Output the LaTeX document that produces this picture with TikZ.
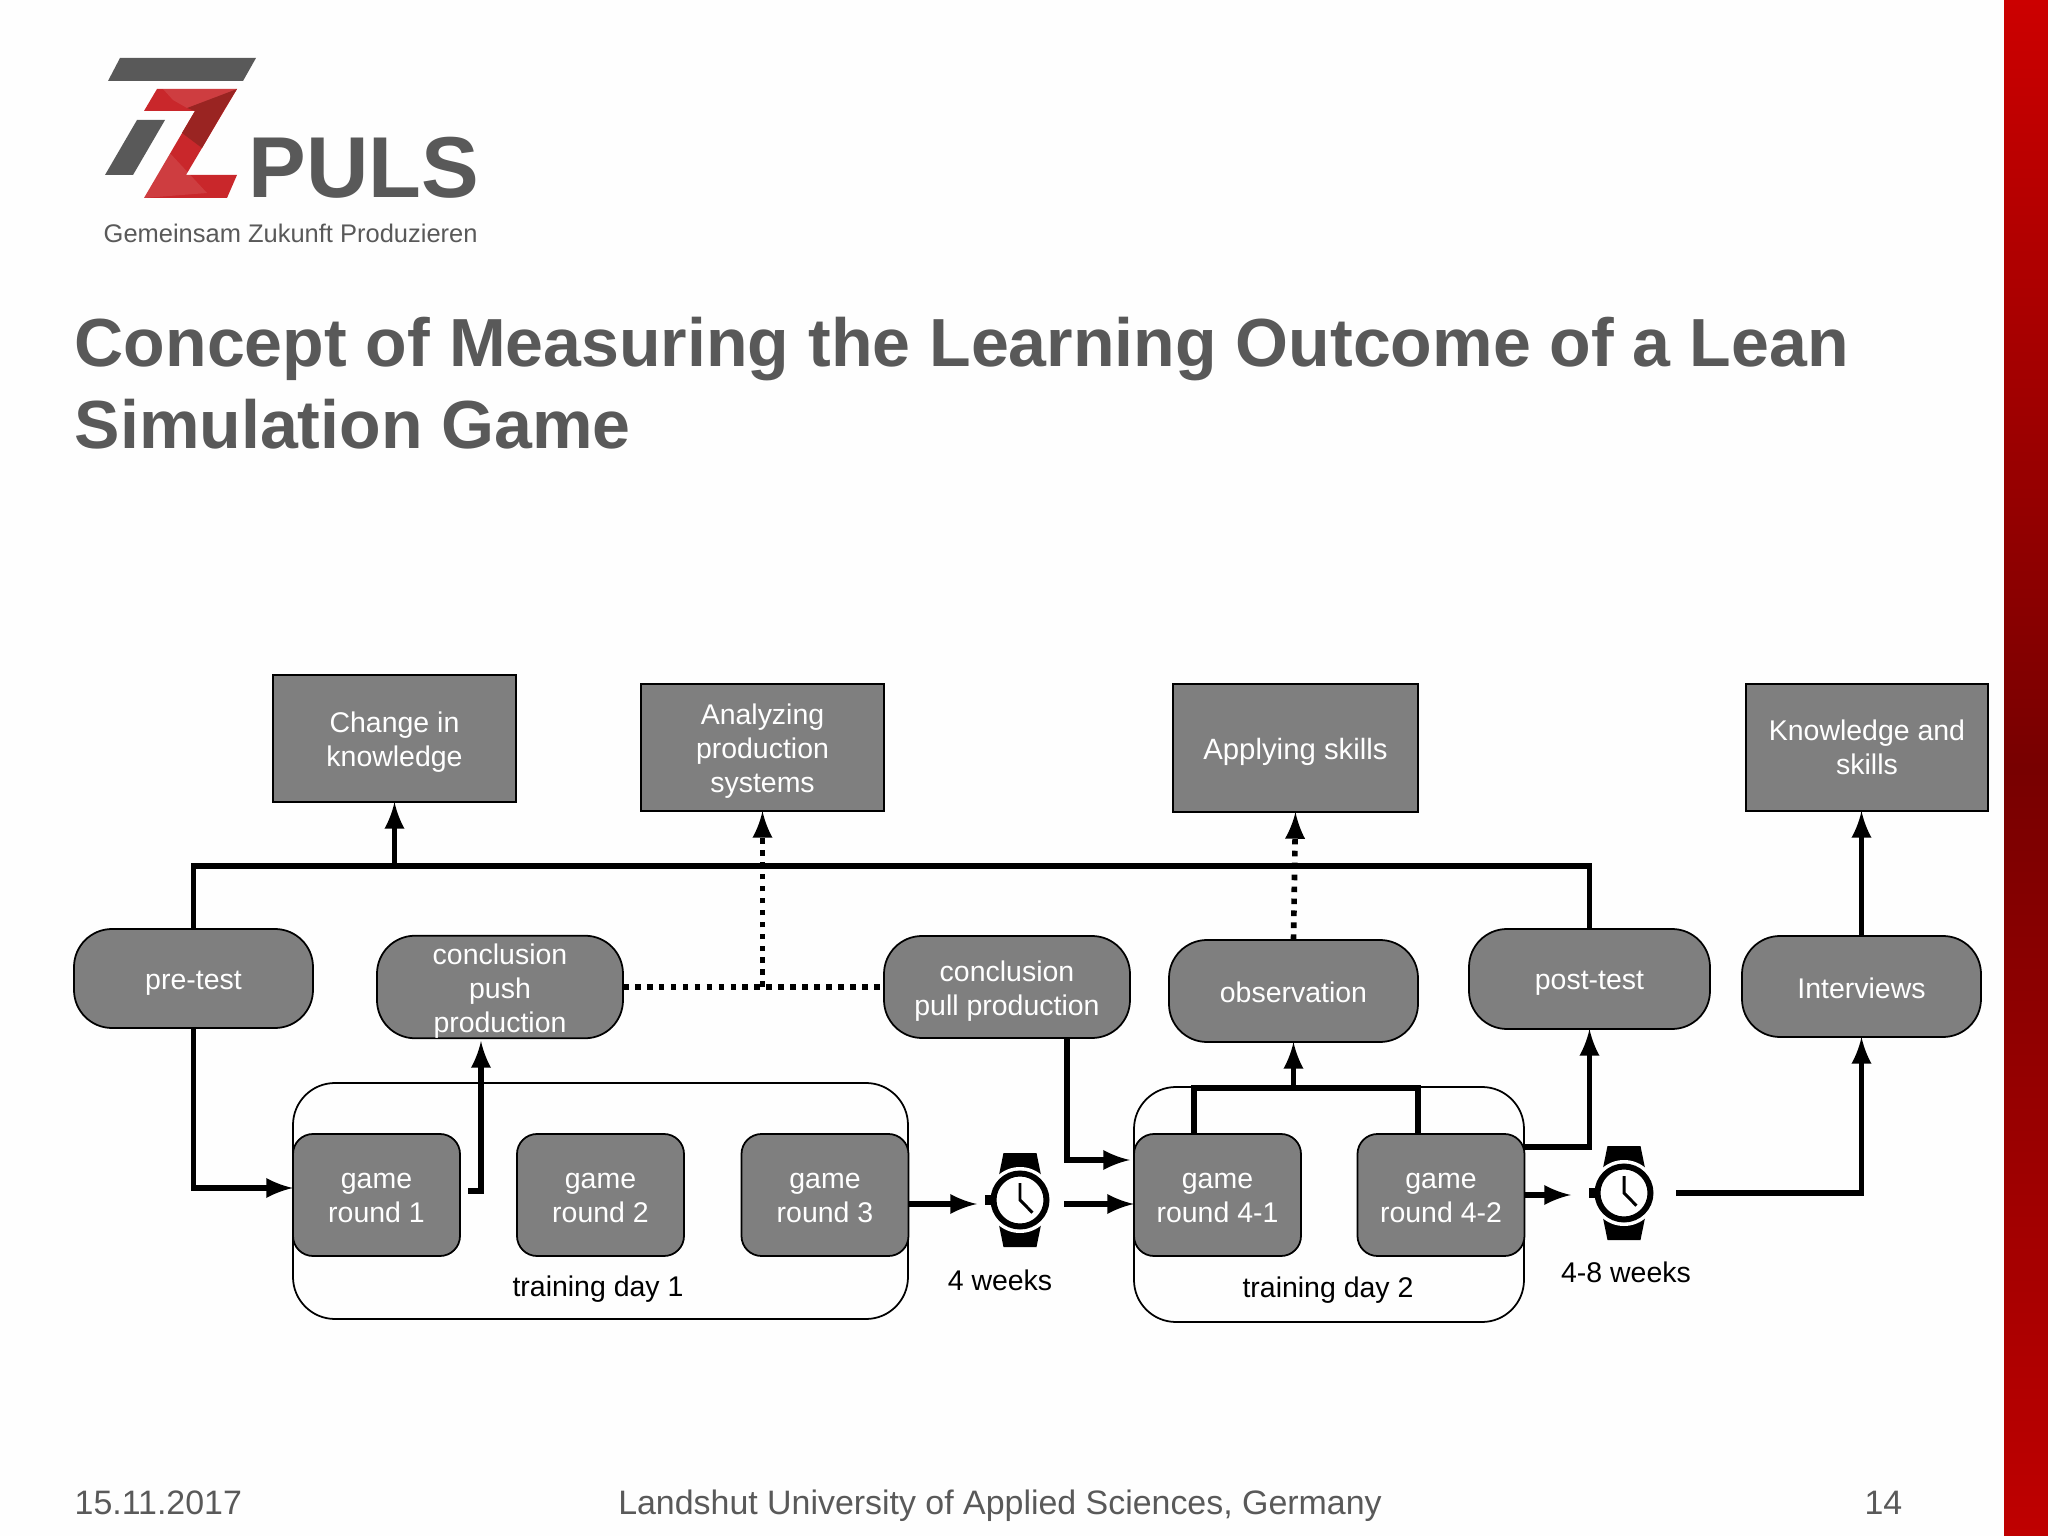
\documentclass[tikz,border=0pt]{standalone}
\usepackage{fontspec}
\setmainfont{Liberation Sans}
\usetikzlibrary{positioning}
\definecolor{slidegray}{HTML}{595959}
\definecolor{boxgray}{HTML}{7F7F7F}
\definecolor{logored}{HTML}{C9272B}
\definecolor{logodark}{HTML}{9A2422}
\newcommand{\liftline}[1][8.1pt]{\rule{0pt}{#1}}
\tikzset{
  boxlabel/.style={font=\fontsize{8.1}{9.7}\selectfont,align=center,inner sep=0,outer sep=0},
  resultbox/.style={boxlabel,draw=black,line width=0.5pt,fill=boxgray,text=white},
  measure/.style={resultbox,rounded corners=0.38cm},
  gameround/.style={resultbox,rounded corners=0.2cm,minimum width=1.67cm,minimum height=1.22cm},
  trainingday/.style={draw=black,line width=0.5pt,rounded corners=0.42cm,inner sep=0,outer sep=0},
  blacklabel/.style={boxlabel,text=black},
  footer/.style={font=\fontsize{9.65}{11}\selectfont,text=slidegray,inner sep=0},
  conn/.style={line width=1.6pt},
  dotconn/.style={line width=1.6pt,dash pattern=on 1.6pt off 1.8pt},
  watchnode/.style={inner sep=0,outer sep=0,minimum height=0.2cm},
  watch/.pic={
    \fill[black] (-0.165,-0.47) -- (0.165,-0.47) -- (0.21,-0.25) -- (-0.21,-0.25) -- cycle;
    \fill[black] (-0.165,0.47) -- (0.165,0.47) -- (0.21,0.25) -- (-0.21,0.25) -- cycle;
    \fill[white] (0,0) circle (0.33);
    \fill[black] (-0.35,-0.05) rectangle (-0.27,0.05);
    \draw[line width=1.7pt] (0,0) circle (0.265);
    \draw[line width=0.85pt] (0,-0.17) -- (0,0) -- (0.125,0.127);
  }
}
\begin{document}
\begin{tikzpicture}[x=1cm,y=-1cm]
  \useasboundingbox (0,0) rectangle (20.48,15.36);
  \fill[white!99.5!black] (0,0) rectangle (20.04,15.36);
  \shade[top color=red!80!black,bottom color=red!75!black,middle color=red!47!black] (20.04,0) rectangle (20.48,15.36);

  % logo
  \fill[slidegray] (1.20,0.58) -- (2.56,0.58) -- (2.43,0.81) -- (1.08,0.81) -- cycle;
  \fill[slidegray] (1.37,1.20) -- (1.65,1.20) -- (1.33,1.75) -- (1.05,1.75) -- cycle;
  \fill[logored] (1.57,0.89) -- (2.37,0.89) -- (1.86,1.75) -- (2.37,1.75) -- (2.27,1.98)
    -- (1.44,1.98) -- (1.95,1.11) -- (1.44,1.11) -- cycle;
  \fill[logodark] (2.37,0.89) -- (1.87,1.08) -- (1.95,1.11) -- (1.82,1.33) -- (2.02,1.48) -- (2.24,1.10) -- cycle;
  \fill[white,opacity=0.1] (1.63,0.89) -- (2.37,0.89) -- (1.87,1.08) -- (1.73,1.0) -- cycle;
  \fill[white,opacity=0.1] (1.44,1.98) -- (1.67,1.50) -- (2.07,1.93) -- cycle;
  \node[font=\bfseries\fontsize{24.6}{25}\selectfont,text=slidegray,inner sep=0,anchor=base west] (pulsname) at (2.48,1.98) {PULS};
  \node[font=\fontsize{7.25}{8}\selectfont,text=slidegray,inner sep=0,anchor=base west] (slogan) at (1.03,2.43) {Gemeinsam Zukunft Produzieren};

  \node[font=\bfseries\fontsize{19.37}{23.4}\selectfont,text=slidegray,align=left,inner sep=0,anchor=north west] (slidetitle) at (0.74,3.16)
    {Concept of Measuring the Learning Outcome of a Lean\\Simulation Game};

  % results on top
  \node[resultbox,minimum width=2.43cm,minimum height=1.27cm] (change) at (3.945,7.385) {\liftline Change in\\knowledge};
  \node[resultbox,minimum width=2.43cm,minimum height=1.27cm] (analyzing) at (7.625,7.475) {\liftline Analyzing\\production\\systems};
  \node[resultbox,font=\fontsize{8.35}{9.7}\selectfont,minimum width=2.45cm,minimum height=1.28cm] (applying) at (12.955,7.48) {\liftline Applying skills};
  \node[resultbox,minimum width=2.42cm,minimum height=1.27cm] (knowledge) at (18.67,7.475) {Knowledge and\\skills};

  % measurements
  \node[measure,minimum width=2.39cm,minimum height=0.99cm] (pretest) at (1.935,9.785) {\liftline pre-test};
  \node[measure,minimum width=2.46cm,minimum height=1.02cm] (pushc) at (5.0,9.87) {\liftline conclusion\\push\\production};
  \node[measure,minimum width=2.46cm,minimum height=1.02cm] (pullc) at (10.07,9.87) {\liftline conclusion\\pull production};
  \node[measure,minimum width=2.49cm,minimum height=1.02cm] (observation) at (12.935,9.91) {\liftline[6.7pt]observation};
  \node[measure,minimum width=2.41cm,minimum height=1.0cm] (posttest) at (15.895,9.79) {\liftline[7.5pt]post-test};
  \node[measure,minimum width=2.39cm,minimum height=1.01cm] (interviews) at (18.615,9.865) {\liftline[6.7pt]Interviews};

  % training days
  \node[trainingday,minimum width=6.15cm,minimum height=2.36cm] (day1) at (6.005,12.01) {};
  \node[trainingday,minimum width=3.90cm,minimum height=2.35cm] (day2) at (13.29,12.045) {};
  \node[gameround] (round1) at (3.765,11.95) {\liftline[5.8pt]game\\round 1};
  \node[gameround] (round2) at (6.005,11.95) {\liftline[5.8pt]game\\round 2};
  \node[gameround] (round3) at (8.25,11.95) {\liftline[5.8pt]game\\round 3};
  \node[gameround] (round41) at (12.175,11.95) {\liftline[5.8pt]game\\round 4-1};
  \node[gameround] (round42) at (14.41,11.95) {\liftline[5.8pt]game\\round 4-2};
  \node[blacklabel] (day1label) at (5.98,12.89) {training day 1};
  \node[blacklabel] (day2label) at (13.28,12.905) {training day 2};

  % watches
  \node[watchnode,minimum width=0.87cm] (watch1) at (10.205,12.04) {};
  \node[watchnode,minimum width=1.05cm] (watch2) at (16.235,11.93) {};
  \pic at (10.20,12.00) {watch};
  \pic at (16.24,11.93) {watch};
  \node[blacklabel] (week1) at (10.0,12.80) {4 weeks};
  \node[blacklabel] (week2) at (16.26,12.72) {4-8 weeks};

  \coordinate (busL) at (pretest.north |- 0,8.66);
  \coordinate (busR) at (posttest.north |- 0,8.66);
  \coordinate (preend) at (2.93,11.88);
  \coordinate (r1out) at (4.68,11.91);
  \coordinate (pushin) at (4.81,10.41);
  \coordinate (pullout) at (10.67,10.38);
  \coordinate (day2in) at (11.30,11.60);
  \coordinate (postin) at (15.24,11.47);
  \coordinate (obsL) at (11.94,10.88);
  \coordinate (obsR) at (14.18,10.88);
  \coordinate (dotmid) at (analyzing.south |- pushc.east);

  \draw[conn] (pretest.north) -- (busL) -- (busR) -- (posttest.north);
  \draw[conn,-latex] (change.south |- busL) -- (change.south);
  \draw[dotconn] (pushc.east) -- (pullc.west);
  \draw[dotconn,-latex] (dotmid) -- (analyzing.south);
  \draw[dotconn,-latex] (observation.north) -- (applying.south);
  \draw[conn,-latex] (interviews.north) -- (interviews.north |- knowledge.south);
  \draw[conn,-latex] (pretest.south) |- (preend);
  \draw[conn,-latex] (r1out) -| (pushin);
  \draw[conn,-latex] (pullout) |- (day2in);
  \draw[conn,-latex] (round3.east |- watch1) -- (watch1.west);
  \draw[conn,-latex] (watch1.east) -- (round41.west |- watch1);
  \draw[conn] (obsL |- round41.north) -- (obsL) -- (obsR) -- (obsR |- round42.north);
  \draw[conn,-latex] (observation.south |- obsL) -- (observation.south);
  \draw[conn,-latex] (postin) -| (posttest.south);
  \draw[conn,-latex] (round42.east) -- (round42.east -| watch2.west);
  \draw[conn,-latex] (watch2.east) -| (interviews.south);

  % footer
  \node[footer,anchor=base west] (datetext) at (0.74,15.14) {15.11.2017};
  \node[footer,anchor=base] (placetext) at (10.0,15.14) {Landshut University of Applied Sciences, Germany};
  \node[footer,anchor=base east] (pagenum) at (19.03,15.14) {14};
\end{tikzpicture}
\end{document}
